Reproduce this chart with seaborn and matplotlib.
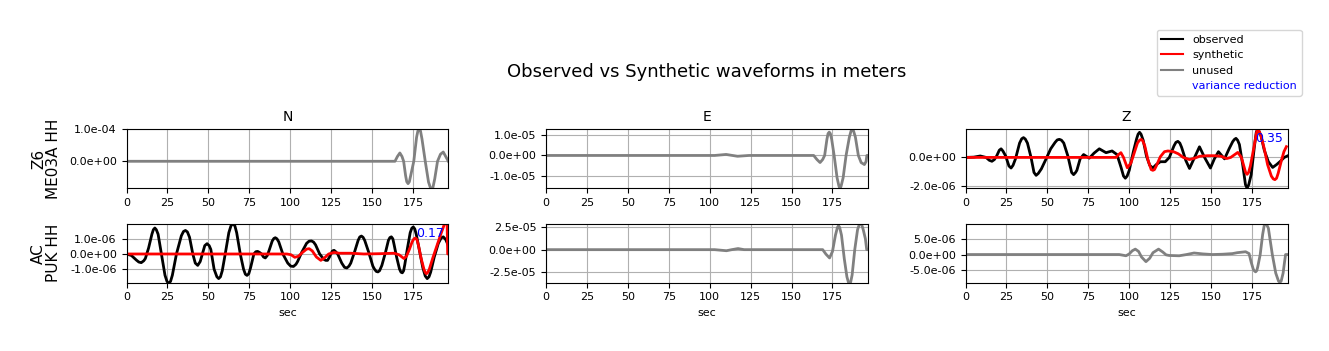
import matplotlib
matplotlib.use("Agg")
import matplotlib.pyplot as plt
import matplotlib.ticker as mticker
from matplotlib.lines import Line2D
import numpy as np
import seaborn as sns

# --- data (time in sec) ---
# Z6 ME03A HH, N component (unused), units of 1e-5 m
z6_n_t = [0, 100, 164, 165.5, 167, 168.3, 169.3, 170.5, 171.2, 172, 172.8, 173.6, 175.5, 177.2,
          178, 178.8, 179.6, 180.5, 182.5, 184.5, 185.6, 186.4, 187.2, 188.3, 190, 191.8,
          193.5, 195, 196.6]
z6_n_unused = [0, 0, 0, 1.5, 2.6, 1.5, 0, -4.5, -6.4, -7.0, -6.4, -4.5, 0, 7.5, 9.5, 10.2, 9.5,
               7, 0, -6.5, -8.2, -8.6, -8.2, -5.5, 0, 2.2, 2.9, 1.5, 0]

# Z6 ME03A HH, E component (unused), units of 1e-6 m
z6_e_t = [0, 103, 110, 117, 124, 163.5, 165.5, 167.4, 169, 170.2, 171.6, 172.3, 173, 173.7,
          174.5, 176, 177.8, 178.9, 179.6, 180.3, 181.5, 183.3, 185.3, 186.3, 187.1, 187.9, 189,
          190.8, 192.5, 194.5, 195.5, 196, 196.6]
z6_e_unused = [0, 0, 0.5, -0.4, 0, 0, -2.0, -3.5, -2.0, 0, 8.0, 10.8, 11.5, 10.8, 8.0, 0, -11,
               -15, -16.5, -15, -11, 0, 9, 12, 13, 12, 9, 0, -3.5, -4.5, -3, 0, 0]

# Z6 ME03A HH, Z component, units of 1e-6 m
z6_z_t = [0, 5, 9, 12.5, 14.5, 16.1, 17.6, 19, 20.6, 21.7, 22.8, 24.5, 26.5, 27.8, 29, 30.5, 33,
          34.3, 35.4, 36.5, 37.8, 40, 41.8, 43.1, 44.4, 46.3, 49, 52, 54.7, 56, 57.3, 58.6, 60,
          62.5, 64.3, 64.8, 66, 67.2, 68, 70, 72.1, 75.6, 78.5, 81.7, 85.8, 89.5, 92.5, 95, 96.5,
          97.6, 98.7, 100, 102.5, 104.5, 105.4, 106.3, 107.2, 108.5, 110.5, 112.5, 114.4, 116.5,
          119, 122, 124.5, 127.3, 128.5, 129.7, 130.9, 132, 134.5, 136.8, 139.5, 142.9, 146,
          149.6, 152, 154.5, 158.2, 161, 163.2, 164.2, 165.2, 166.2, 167.3, 169.3, 171, 172, 173,
          174.5, 176.5, 177.6, 178.5, 179.4, 180.5, 182.5, 185, 187.6, 190, 192.5, 194.7, 196.6]
z6_z_obs = [0, 0.02, 0.1, 0, -0.2, -0.27, -0.15, 0.1, 0.5, 0.6, 0.45, 0.1, -0.6, -0.74, -0.55,
            -0.1, 1.0, 1.3, 1.38, 1.28, 1.0, 0, -1.05, -1.25, -1.12, -0.8, -0.15, 0.6, 1.05, 1.22,
            1.26, 1.2, 1.0, 0.1, -0.8, -1.05, -1.2, -1.05, -0.9, -0.1, 0.2, -0.05, 0.3, 0.6, 0.33,
            0.45, 0.2, -0.7, -1.3, -1.45, -1.3, -0.9, 0.4, 1.3, 1.62, 1.75, 1.62, 1.2, 0.1, -0.55,
            -0.74, -0.5, -0.3, -0.3, 0, 0.8, 1.05, 1.12, 1.0, 0.7, -0.2, -0.77, -0.1, 0.74, 0,
            -0.74, -0.1, 0.4, -0.1, 0.6, 1.1, 1.25, 1.33, 1.2, 0.9, -0.5, -1.9, -2.15, -1.9, -1.2,
            0.8, 1.75, 2.0, 1.8, 1.5, 0.5, -0.3, -0.7, -0.5, -0.25, 0, 0.1]
z6_z_syn_t = [0, 91.9, 93.5, 94.9, 96.5, 98.8, 101, 103, 105, 106.3, 107.3, 108.3, 109.5, 111.5,
              113.4, 114.4, 115.4, 116.5, 119, 121.5, 123.6, 127, 130, 133, 136.8, 140, 143, 148,
              152, 156, 159.5, 162, 166.3, 168.5, 170, 171.1, 172, 172.9, 174, 176, 177.7, 178.5,
              179.4, 180.5, 182.5, 184.5, 186.8, 188, 189, 190, 191, 193, 194.5, 196]
z6_z_syn = [0, 0, 0.2, 0.33, 0, -0.72, -0.4, 0.3, 1.0, 1.2, 1.26, 1.15, 0.8, -0.2, -0.85, -0.9,
            -0.85, -0.6, 0.05, 0.4, 0.45, 0.4, 0.25, 0, -0.15, -0.05, 0.08, 0.12, 0.12, 0.08,
            -0.08, 0, 0.35, 0, -0.6, -1.05, -1.18, -1.05, -0.6, 0.6, 1.7, 2.0, 1.8, 1.5, 0.6,
            -0.5, -1.3, -1.5, -1.55, -1.45, -1.1, -0.2, 0.4, 0.75]

# AC PUK HH, N component, units of 1e-6 m
ac_n_t = [0, 3, 6, 7.5, 9, 10.5, 11.5, 13.5, 15.5, 16.4, 17.3, 18.2, 19.3, 21.3, 23.5, 24.7,
          25.8, 26.9, 28, 30.5, 33.5, 34.8, 36, 37.2, 38.5, 40.5, 42, 43.5, 45, 46.3, 47.8, 49.2,
          50.5, 51.5, 53.5, 55.2, 56.3, 57.4, 58.5, 60.3, 62.5, 63.8, 65, 66.2, 67.3, 69.5, 71.5,
          72.6, 73.6, 74.7, 75.8, 77.8, 79, 80.1, 81.3, 82.5, 83.7, 84.8, 86, 87, 89, 90, 90.9,
          91.9, 93, 95.5, 98.5, 100.3, 102, 103.5, 104.5, 107, 110, 111.5, 113, 114.3, 115.5,
          118, 120.5, 121.7, 122.8, 124, 124.8, 125.8, 126.8, 127.8, 129, 131.5, 133.2, 134.6,
          135.9, 137, 139.5, 141.5, 142.5, 143.5, 144.5, 145.5, 148, 150.5, 151.5, 152.6, 153.6,
          154.6, 156, 158.2, 160, 160.9, 161.8, 162.7, 163.5, 165, 166.8, 167.7, 168.5, 169.3,
          170, 171.5, 173.3, 174.3, 175.2, 176.1, 177, 179, 181, 182.5, 183.7, 184.8, 185.8, 188,
          190.5, 192.2, 193.5, 195, 196.6]
ac_n_obs = [0, -0.1, -0.4, -0.53, -0.57, -0.45, -0.3, 0.4, 1.3, 1.6, 1.71, 1.6, 1.3, 0, -1.4,
            -1.8, -1.95, -1.8, -1.4, 0, 1.2, 1.48, 1.55, 1.45, 1.1, 0, -0.6, -0.75, -0.5, 0, 0.55,
            0.68, 0.55, 0.3, -1.0, -1.5, -1.62, -1.5, -1.1, 0, 1.4, 1.85, 2.0, 1.85, 1.4, 0, -1.0,
            -1.33, -1.41, -1.3, -0.9, 0, 0.15, 0.17, 0.1, 0, -0.2, -0.26, -0.1, 0.2, 0.85, 1.02,
            1.07, 1.0, 0.8, 0, -0.6, -0.8, -0.82, -0.68, -0.5, 0.1, 0.7, 0.84, 0.86, 0.78, 0.6, 0,
            -0.35, -0.42, -0.42, -0.2, 0, 0.2, 0.24, 0.15, 0, -0.6, -0.88, -0.92, -0.8, -0.6, 0.2,
            0.9, 1.12, 1.18, 1.1, 0.9, 0.1, -0.8, -1.0, -1.15, -1.18, -1.1, -0.75, 0.1, 0.9, 1.08,
            1.13, 1.0, 0.6, -0.2, -1.0, -1.2, -1.24, -1.1, -0.7, 0.3, 1.4, 1.7, 1.78, 1.65, 1.3,
            0.2, -0.9, -1.45, -1.62, -1.5, -1.2, -0.2, 0.7, 1.05, 1.13, 0.95, 0.55]
ac_n_syn_t = [0, 98, 100.5, 102.8, 105, 107.5, 110, 111.6, 113.5, 116, 118.7, 121, 123.5, 126.8,
              130, 137, 145, 155, 163.4, 166.5, 169.5, 171, 172.8, 174.5, 175.6, 176.5, 177.4,
              178.3, 180, 181.7, 182.5, 183.2, 184, 185, 187, 189.5, 192, 194, 195.2, 195.8,
              196.2, 196.6]
ac_n_syn = [0, 0, -0.05, -0.22, -0.15, 0.1, 0.32, 0.35, 0.2, -0.2, -0.42, -0.25, 0, 0.1, 0.05,
            0.05, 0, 0.02, 0.05, -0.05, -0.3, -0.15, 0.3, 0.8, 1.0, 1.05, 0.95, 0.6, -0.3, -1.0,
            -1.22, -1.3, -1.22, -1.0, -0.3, 0.5, 1.3, 1.9, 2.3, 2.3, 0, 0]

# AC PUK HH, E component (unused), units of 1e-5 m
ac_e_t = [0, 103, 106, 110.2, 113.5, 117.3, 121, 169, 171, 173.2, 175, 176.8, 178, 178.7, 179.4,
          180.5, 182.2, 183.8, 184.7, 185.4, 186.1, 187, 188.6, 190.3, 191.4, 192.1, 192.8,
          193.8, 195.1, 195.9, 196.6]
ac_e_unused = [0, 0, -0.05, -0.12, 0, 0.12, 0, 0, -0.5, -0.92, -0.2, 1.6, 2.45, 2.66, 2.45, 1.6,
               -1.0, -3.0, -3.6, -3.8, -3.6, -2.8, 0, 2.2, 2.8, 2.95, 2.8, 2.2, 1.2, 0, 0]

# AC PUK HH, Z component (unused), units of 1e-6 m
ac_z_t = [0, 93.9, 96, 98, 100, 101.8, 103.7, 105.7, 107.5, 110.2, 112.5, 114.5, 117.9, 120.5,
          122.5, 124.4, 130.5, 135, 139.6, 145, 150.8, 157, 163, 166, 171.1, 173.2, 174.5,
          175.8, 176.5, 177.2, 177.9, 178.5, 180, 181.5, 182.5, 183.3, 184.1, 185, 187.4, 189.5,
          191.2, 192, 192.8, 194, 194.6, 195.5, 196.6]
ac_z_unused = [0, 0, -0.2, -0.4, 0.2, 1.2, 1.75, 1.0, -0.8, -2.3, -1.2, 0.6, 1.75, 0.8, -0.1,
               -0.3, -0.4, 0, 0.5, 0.2, 0, 0.1, 0.3, 0.6, 0.9, 0.3, -2.5, -4.8, -5.3, -5.6, -5.2,
               -4.0, 0, 6.5, 9.5, 10.2, 9.5, 8.5, 0, -6.0, -8.6, -9.0, -8.6, -6.0, -3.5, 0, 0]

var_red = {"z6_z": "0.35", "ac_n": "0.17"}

stations = ["Z6\nME03A HH", "AC\nPUK HH"]
components = ["N", "E", "Z"]

fig, axes = plt.subplots(2, 3, figsize=(13.29, 3.51), dpi=100)
fig.subplots_adjust(left=0.0952, right=0.9688, top=0.6316, bottom=0.1946,
                    wspace=0.303, hspace=0.609)


def draw(ax, t, v, scale, color):
    sns.lineplot(x=t, y=np.array(v) * scale, ax=ax, color=color, lw=2)


draw(axes[0, 0], z6_n_t, z6_n_unused, 1e-5, "gray")
draw(axes[0, 1], z6_e_t, z6_e_unused, 1e-6, "gray")
draw(axes[0, 2], z6_z_t, z6_z_obs, 1e-6, "black")
draw(axes[0, 2], z6_z_syn_t, z6_z_syn, 1e-6, "red")
draw(axes[1, 0], ac_n_t, ac_n_obs, 1e-6, "black")
draw(axes[1, 0], ac_n_syn_t, ac_n_syn, 1e-6, "red")
draw(axes[1, 1], ac_e_t, ac_e_unused, 1e-5, "gray")
draw(axes[1, 2], ac_z_t, ac_z_unused, 1e-6, "gray")

ylims = [[(-8.4e-5, 1.001e-4), (-1.61e-5, 1.29e-5), (-2.14e-6, 1.96e-6)],
         [(-1.89e-6, 1.98e-6), (-3.66e-5, 2.85e-5), (-9.1e-6, 0.99e-5)]]
ysteps = [[1e-4, 1e-5, 2e-6], [1e-6, 2.5e-5, 5e-6]]

for i in range(2):
    for j in range(3):
        ax = axes[i, j]
        ax.set_xlim(0, 196.7)
        ax.set_ylim(*ylims[i][j])
        ax.xaxis.set_major_locator(mticker.MultipleLocator(25))
        ax.yaxis.set_major_locator(mticker.MultipleLocator(ysteps[i][j]))
        ax.yaxis.set_major_formatter(mticker.FormatStrFormatter("%.1e"))
        ax.tick_params(labelsize=8)
        ax.grid(True)
        ax.set_axisbelow(True)
        if i == 0:
            ax.set_title(components[j], fontsize=10)
        else:
            ax.set_xlabel("sec", fontsize=8)
    axes[i, 0].set_ylabel(stations[i], fontsize=11, linespacing=1.0)
    axes[i, 0].yaxis.set_label_coords(-0.203, 0.5)

axes[0, 2].text(0.985, 0.95, var_red["z6_z"], color="blue", fontsize=9,
                ha="right", va="top", transform=axes[0, 2].transAxes)
axes[1, 0].text(0.985, 0.95, var_red["ac_n"], color="blue", fontsize=9,
                ha="right", va="top", transform=axes[1, 0].transAxes)

fig.suptitle("Observed vs Synthetic waveforms in meters", fontsize=13, x=0.532, y=0.82)

handles = [Line2D([0], [0], color="black", lw=1.5),
           Line2D([0], [0], color="red", lw=1.5),
           Line2D([0], [0], color="gray", lw=1.5),
           Line2D([0], [0], color="none")]
leg = fig.legend(handles, ["observed", "synthetic", "unused", "variance reduction"],
                 loc="upper right", bbox_to_anchor=(0.9835, 0.930), fontsize=8)
leg.get_texts()[3].set_color("blue")

fig.savefig("out.png", dpi=100)
